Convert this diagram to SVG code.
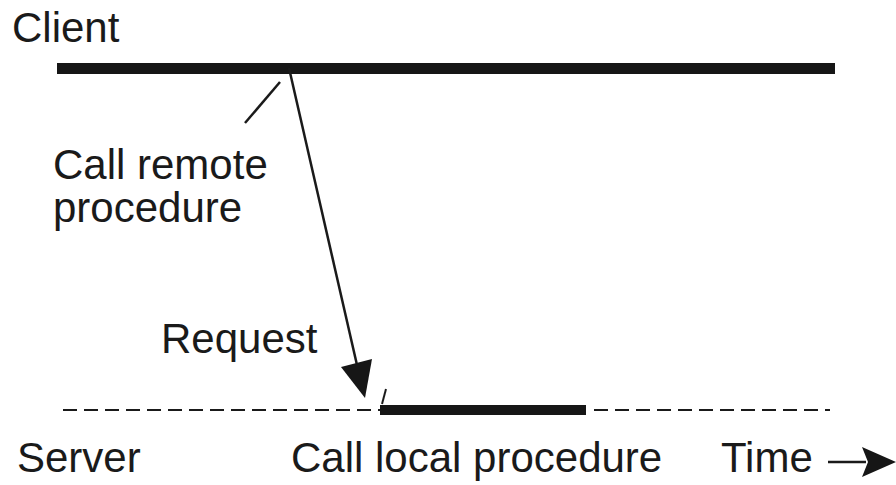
<svg xmlns="http://www.w3.org/2000/svg" width="896" height="485" viewBox="0 0 896 485">
<style>
text{font-family:"Liberation Sans",Arial,sans-serif;font-size:42px;fill:#1a1a1a}
.thin{stroke:#1a1a1a;stroke-width:2.5;fill:none}
.dash{stroke:#1a1a1a;stroke-width:2;stroke-dasharray:14 7;fill:none}
.bar{fill:#161616}
.head{fill:#161616}
</style>
<rect width="896" height="485" fill="#fff"/>
<g id="client">
<text x="12" y="42">Client</text>
<rect class="bar" x="57" y="63" width="778" height="11"/>
</g>
<g id="server">
<text x="17" y="472">Server</text>
<line class="dash" x1="63" y1="410" x2="380" y2="410"/>
<rect class="bar" x="380" y="405" width="206" height="10"/>
<line class="dash" x1="594" y1="410" x2="830" y2="410"/>
</g>
<g id="labels">
<text x="53" y="179">Call remote</text>
<text x="53" y="222">procedure</text>
<text x="161" y="353">Request</text>
<text x="291" y="472">Call local procedure</text>
<text x="721" y="472">Time</text>
</g>
<g id="connectors">
<line class="thin" x1="245" y1="123" x2="280" y2="82"/>
<line class="thin" x1="289" y1="68" x2="357" y2="365"/>
<polygon class="head" points="365,398 341,367 372,359"/>
<line class="thin" x1="382" y1="404" x2="386" y2="389" style="stroke-width:2"/>
<line class="thin" x1="828" y1="462" x2="866" y2="462"/>
<polygon class="head" points="896,462 862,447 868,462 862,477"/>
</g>
</svg>
